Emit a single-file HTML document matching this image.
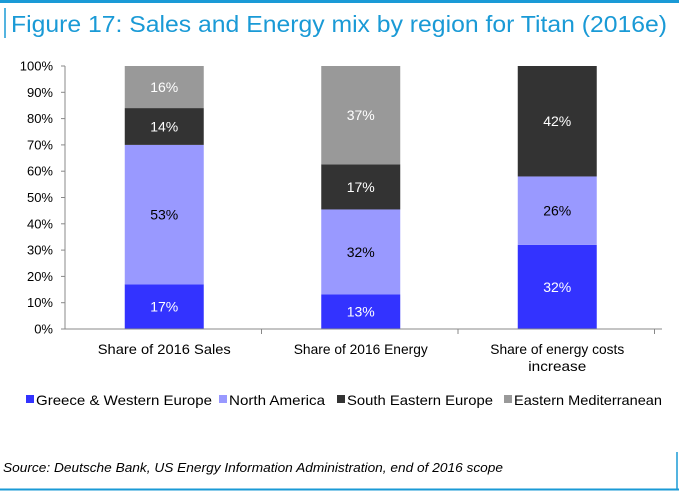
<!DOCTYPE html>
<html><head><meta charset="utf-8"><style>
body{margin:0;background:#fff;width:679px;height:491px;overflow:hidden;position:relative;font-family:"Liberation Sans",sans-serif}
</style></head><body>
<svg width="679" height="491" style="position:absolute;left:0;top:0">
<line x1="0" y1="1.5" x2="679" y2="1.5" stroke="#1a9ad6" stroke-width="3"/>
<line x1="5" y1="8" x2="5" y2="38" stroke="#1a9ad6" stroke-width="1.5"/>
<text x="11" y="32" font-size="23" textLength="656" lengthAdjust="spacingAndGlyphs" fill="#1a9ad6">Figure 17: Sales and Energy mix by region for Titan (2016e)</text>
<g id="chart"></g>
<text x="3" y="472" font-size="12.5" font-style="italic" textLength="500" lengthAdjust="spacingAndGlyphs" fill="#000">Source: Deutsche Bank, US Energy Information Administration, end of 2016 scope</text>
<line x1="677" y1="452" x2="677" y2="490" stroke="#1a9ad6" stroke-width="1.5"/>
<line x1="0" y1="489.5" x2="679" y2="489.5" stroke="#1a9ad6" stroke-width="2"/>
</svg>
<script>
const categories=[["Share of 2016 Sales"],["Share of 2016 Energy"],["Share of energy costs","increase"]];
const seriesNames=["Greece & Western Europe","North America","South Eastern Europe","Eastern Mediterranean"];
const greeceWE=[17,13,32];
const northAmerica=[53,32,26];
const southEastEurope=[14,17,42];
const eastMed=[16,37,0];
const yTicks=[0,10,20,30,40,50,60,70,80,90,100];
const series=[greeceWE,northAmerica,southEastEurope,eastMed];
const colors=["#3333ff","#9999ff","#333333","#999999"];
const textCol=["#fff","#000","#fff","#fff"];
const NS="http://www.w3.org/2000/svg";
const g=document.getElementById('chart');
const x0=65,x1=662,y0=329,y1=66;
const ys=v=>y0-(v/100)*(y0-y1);
const bw=196.5;
const xc=i=>x0+1+bw*(i+0.5);
function mk(t,a,p){const e=document.createElementNS(NS,t);for(const k in a)e.setAttribute(k,a[k]);(p||g).appendChild(e);return e;}
yTicks.forEach(t=>{
  const l=mk('line',{x1:x0-4,x2:x0,y1:ys(t),y2:ys(t),stroke:'#888'});
  
  
  const tx=mk('text',{x:x0-12,y:ys(t)+4.5,'font-size':13,'text-anchor':'end'});
  tx.textContent=t+'%';
  
  
});
const labLens=[[133],[134],[134,58]];
categories.forEach((c,i)=>{
  let total=0;series.forEach(s=>total+=s[i]);
  let cum=0;
  series.forEach((s,j)=>{
    const v=s[i];if(!v){return;}
    const a=cum/total*100,b=(cum+v)/total*100;
    const r=mk('rect',{x:xc(i)-39.5,width:79,y:ys(b),height:ys(a)-ys(b),fill:colors[j]});
    
    
    const t=mk('text',{x:xc(i),y:(ys(a)+ys(b))/2+5,'font-size':14,'text-anchor':'middle',fill:textCol[j]});
    t.textContent=v+'%';
    
    
    cum+=v;
  });
  c.forEach((ln,k)=>{
    const t=mk('text',{x:xc(i),y:354+k*17,'font-size':14,'text-anchor':'middle',textLength:labLens[i][k],lengthAdjust:'spacingAndGlyphs'});
    t.textContent=ln;
    
    
  });
  const d=mk('line',{x1:x0+bw*(i+1),x2:x0+bw*(i+1),y1:y0,y2:y0+5,stroke:'#888'});
  
  
});
const ya=mk('line',{x1:x0,x2:x0,y1:y1,y2:y0,stroke:'#888'});


const xa=mk('line',{x1:x0,x2:x1,y1:y0,y2:y0,stroke:'#888'});


const lx=[26,219,337,504];
const lw=[176,96,146,148];
seriesNames.forEach((n,j)=>{
  const r=mk('rect',{x:lx[j],y:395,width:8,height:8,fill:colors[j]});
  
  
  const t=mk('text',{x:lx[j]+10,y:405,'font-size':14,textLength:lw[j],lengthAdjust:'spacingAndGlyphs'});
  t.textContent=n;
  
  
});
</script>
</body></html>
